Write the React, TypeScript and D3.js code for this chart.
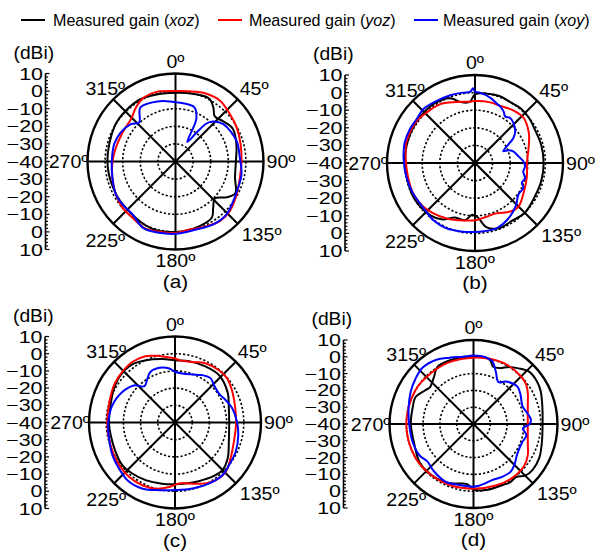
import React from 'react';
import * as d3 from 'd3';

// polar grid
const ANGLES = [0, 45, 90, 135, 180, 225, 270, 315];
const RINGS = [-30, -20, -10, 0];
const AXIS_TICKS = [10, 0, -10, -20, -30, -40, -30, -20, -10, 0, 10];
const SERIES = ['xoz', 'yoz', 'xoy'];
const PANEL_LABELS = ['(a)', '(b)', '(c)', '(d)'];

// [angle deg, gain dBi]
const aXoz = [[0,-1],[14,-0.3],[28,0.6],[35,-2.5],[41,-6],[50,-4.5],[60,-2.5],[74,-4],[90,-5.7],[105,-5],[118,-1.5],[125,-4.5],[133,-9.3],[141,-6],[147,-2],[160,-0.8],[180,0],[200,0.4],[225,-1.3],[245,-1.5],[270,-1.3],[300,0],[315,0.4],[331,0.6],[345,-0.5]];
const aYoz = [[0,0],[11,0.6],[24,2.3],[36,2.8],[49,1],[61,-0.2],[75,-1.7],[90,-2.5],[104,-2.3],[118,-0.6],[132,1.7],[143,2.2],[155,0.7],[168,-0.5],[180,0.6],[193,1],[205,1.7],[217,0.2],[229,0],[241,-1.3],[256,-3],[270,-4.2],[283,-5.2],[299,-5.7],[314,-5],[324,-1.9],[334,0.6],[344,1]];
const aXoy = [[0,-6.3],[10,-6.7],[19,-7.3],[26,-13],[31,-27],[36,-20],[39,-12.4],[43,-8.9],[52,-5.5],[71,-3.4],[86,-3.4],[101,-1.8],[113,-1.4],[124,-0.3],[136,1.7],[149,1.7],[163,0.4],[180,1.1],[193,1.6],[206,2],[219,-1.3],[231,-1.3],[241,-1.3],[256,-3],[270,-3.8],[286,-3.8],[298,-4.8],[310,-6.9],[317,-9.7],[327,-3.4],[345,-4.5]];

const bXoz = [[0,-1],[10,0],[20,0.5],[30,0],[40,0.5],[50,0],[60,-1],[75,-1],[90,-1],[105,-1],[120,-1],[135,0],[148,-1],[160,-0.5],[170,-3],[177,-9],[183,-10.5],[190,-7],[200,-7],[210,-3],[220,-1],[240,0],[260,-0.5],[280,0],[300,0.5],[320,1],[333,0.5],[340,-1],[347,-4.5],[355,-5.2]];
const bYoz = [[1.5,-4.8],[14,-4.5],[24,-4.5],[36,-3],[47,-2.3],[61,-5],[73,-8.1],[90,-10.5],[105,-9.5],[122,-7.5],[135,-5],[144,-5.9],[157,-8.9],[168,-8.8],[178,-7.6],[192,-6.6],[207,-4.6],[220,-2.8],[230,-1.5],[244,-0.8],[259,-1.1],[273,-0.6],[286,0.7],[298,0.9],[307,0.8],[316,-0.3],[329,-1.1],[343,-3.8],[355,-5]];
const bXoy = [[0,0.5],[4,0.1],[13,-1.9],[20,-4],[24,-4.8],[29,-6.5],[33,-8.5],[38,-7.6],[44,-8.5],[52,-11],[57,-14],[61,-18.4],[67.5,-22.6],[69,-19.6],[73,-17.3],[81,-15.1],[88,-12.5],[94,-11.5],[100,-12.2],[107,-10.3],[113,-11.1],[117,-9.1],[126,-9.5],[136,-6.5],[147,-3.6],[162,-0.9],[176,-0.9],[190,-0.4],[204,0.5],[216,0.2],[225,-0.9],[244,-0.8],[259,-0.2],[273,0.6],[286,1.6],[297,1.7],[307,1.5],[316,2.4],[328,1.5],[340,1],[350,0.6],[356,0.5],[358.5,2.5]];

const cXoz = [[0,-3.8],[13,-3.4],[27,-3],[43,-2.4],[60,-4.7],[75,-7.6],[90,-8.5],[110,-6.7],[124,-3],[135,-0.9],[145,-1.7],[158,-3.2],[170,-4],[180,-4.1],[192,-3.6],[207,-2.4],[220,-1.3],[231,-0.6],[244,-1.5],[259,-1.9],[270,-1.6],[285,-1.2],[299,0.6],[311,1.9],[324,1.9],[335,0],[349,-2.4]];
const cYoz = [[0,-2.8],[4,-3.7],[16,-3.4],[27,-1.3],[40,-0.3],[50,-0.3],[62,-2.2],[77,-4],[92,-4.5],[108,-4],[123,-1.5],[134,1.1],[145,1],[156,-1.1],[167,-3.6],[176,-4.5],[185,-2.4],[196,0],[207,1.1],[220,1.4],[236,0.6],[251,-0.3],[268,-0.6],[282,-0.4],[296,0.9],[304,1.8],[314,2.5],[325,3.1],[336,2.2],[346,-0.1],[355,-2]];
const cXoy = [[0,-10.5],[8.5,-11.2],[20,-10.3],[30,-8.2],[39,-7],[46,-8.6],[57,-9.4],[66,-7.8],[76,-5.7],[89,-4],[101,-2.5],[116,-0.8],[128,0],[138,1.2],[151,0.6],[165,-0.3],[180,-0.7],[193,0.4],[206,2.8],[218,3.6],[231,2.1],[242,1.1],[256,-0.5],[270,-1.2],[285,-2.2],[300,-4.6],[312,-7.8],[320,-12.4],[328,-9.8],[334,-7.3],[344,-6.9],[354,-8.4]];

const dXoz = [[0,0],[10,0.3],[15,-1],[19,-4],[25,-3.3],[32,0],[39,2.6],[47,5.5],[56,5.5],[64,4.5],[77,2.1],[90,1.1],[104,2],[117,4],[128,4.5],[135,3.5],[141,0.5],[148,1],[155,0.2],[168,0],[180,-1],[186,-4],[194,-3.5],[205,-1.6],[222,-0.5],[235,-0.7],[250,-2.7],[270,-2.7],[285,-2.5],[295,-2],[305,-5],[310,-6.1],[320,-3.4],[328,0.3],[340,0.5],[350,0]];
const dYoz = [[0,-0.5],[15,0],[30,0.5],[45,0],[53,-0.8],[60,-2.7],[70,-5.6],[80,-7.2],[90,-7.7],[100,-7.2],[110,-5.6],[120,-2.7],[130,-0.8],[145,-0.5],[160,-1],[180,-1.5],[200,-1],[220,-0.5],[240,0],[270,0],[300,0],[320,-0.5],[340,-0.5]];
const dXoy = [[0,0.7],[10.5,0.3],[17,-1.2],[23,-6.1],[31,-11],[37,-8.3],[44,-6.5],[50,-5.7],[58,-7],[70,-9],[78,-7.5],[85,-5.8],[90,-6.5],[95,-10.5],[102,-7.8],[110,-9],[124,-8.5],[135,-5.6],[142,-4],[151,-4.2],[161,-4.8],[175,-3.1],[180,-2.7],[193,-2.7],[206,-1.9],[220,-3.3],[231,-4.6],[240,-2.8],[254,-2.2],[270,-1.7],[284,-0.2],[297,2],[308,3.8],[318,5.2],[330,4.2],[340,2],[351,0.6]];

const PANEL_DATA = [
  [aXoz, aYoz, aXoy],
  [bXoz, bYoz, bXoy],
  [cXoz, cYoz, cXoy],
  [dXoz, dYoz, dXoy],
];

// layout / style
const W = 595;
const H = 551;
const LAYOUT = [
  { cx: 175.5, cy: 161.5, R: 88 },
  { cx: 475, cy: 163, R: 88 },
  { cx: 175, cy: 422.5, R: 86 },
  { cx: 473.5, cy: 424, R: 84 },
];
const COLORS = ['#000000', '#ff0000', '#0000ff'];
const LEGEND_LINE_X = [21, 218, 414];
const LEGEND_TEXT_X = [53, 249, 443];
const FONT = 'Arial, "Liberation Sans", Helvetica, sans-serif';

const fmt = (v: number) => (v < 0 ? '\u2212' + Math.abs(v) : String(v));

function angleLabelPos(a: number, cx: number, cy: number, R: number) {
  const rad = (a * Math.PI) / 180;
  const ex = cx + R * Math.sin(rad);
  const ey = cy - R * Math.cos(rad);
  switch (a) {
    case 0: return { x: cx, y: cy - R - 6, anchor: 'middle' };
    case 45: return { x: ex + 2, y: ey - 4, anchor: 'start' };
    case 90: return { x: cx + R + 3, y: cy + 6.5, anchor: 'start' };
    case 135: return { x: ex + 4, y: ey + 17, anchor: 'start' };
    case 180: return { x: cx, y: cy + R + 17.5, anchor: 'middle' };
    case 225: return { x: ex + 12, y: ey + 23, anchor: 'end' };
    case 270: return { x: cx - R + 1, y: cy + 6.5, anchor: 'end' };
    default: return { x: ex + 12, y: ey - 4, anchor: 'end' };
  }
}

function Polar({ idx }: { idx: number }) {
  const { cx, cy, R } = LAYOUT[idx];
  const r = d3.scaleLinear().domain([-40, 10]).range([0, R]);
  const line = d3
    .lineRadial<number[]>()
    .angle((d) => (d[0] * Math.PI) / 180)
    .radius((d) => r(d[1]))
    .curve(d3.curveCatmullRomClosed.alpha(0.5));
  const ax = cx - 130;
  const minor = d3.range(-40, 10.01, 2);

  return (
    <g>
      {/* dotted rings */}
      {RINGS.map((v) => (
        <circle key={v} cx={cx} cy={cy} r={r(v)} fill="none" stroke="#000" strokeWidth={1.6} strokeDasharray="2.2,2" />
      ))}
      {/* spokes */}
      {[0, 45, 90, 135].map((a) => {
        const rad = (a * Math.PI) / 180;
        const dx = R * Math.sin(rad);
        const dy = R * Math.cos(rad);
        return <line key={a} x1={cx - dx} y1={cy + dy} x2={cx + dx} y2={cy - dy} stroke="#000" strokeWidth={2} />;
      })}
      <circle cx={cx} cy={cy} r={R} fill="none" stroke="#000" strokeWidth={2.4} />

      {/* curves */}
      <g transform={`translate(${cx},${cy})`}>
        {PANEL_DATA[idx].map((s, i) => (
          <path key={i} d={line(s as number[][]) || ''} fill="none" stroke={COLORS[i]} strokeWidth={2} strokeLinejoin="round" />
        ))}
      </g>

      {/* angle labels */}
      {ANGLES.map((a) => {
        const p = angleLabelPos(a, cx, cy, R);
        return (
          <text
            key={a}
            transform={`translate(${p.x},${p.y}) scale(1.12,1)`}
            textAnchor={p.anchor as any}
            fontSize={17.5}
            fontFamily={FONT}
          >
            {a}º
          </text>
        );
      })}

      {/* radial axis on the left */}
      <line x1={ax} y1={cy - R} x2={ax} y2={cy + R} stroke="#000" strokeWidth={1.6} />
      {minor.map((v) => (
        <g key={v}>
          <line x1={ax} x2={ax + (v % 10 === 0 ? 4 : 2.5)} y1={cy - r(v)} y2={cy - r(v)} stroke="#000" strokeWidth={1.2} />
          <line x1={ax} x2={ax + (v % 10 === 0 ? 4 : 2.5)} y1={cy + r(v)} y2={cy + r(v)} stroke="#000" strokeWidth={1.2} />
        </g>
      ))}
      {AXIS_TICKS.map((v, i) => {
        const y = cy + (i < 5 ? -1 : 1) * r(v);
        return (
          <text
            key={i}
            transform={`translate(${ax - 2.5},${y + 6}) scale(1.3,1)`}
            textAnchor="end"
            fontSize={16.5}
            fontFamily={FONT}
          >
            {fmt(v)}
          </text>
        );
      })}
      <text transform={`translate(${ax - 32},${cy - R - 15}) scale(1.1,1)`} fontSize={17.5} fontFamily={FONT}>
        (dBi)
      </text>
      <text
        transform={`translate(${cx},${cy + R + 38}) scale(1.15,1)`}
        textAnchor="middle"
        fontSize={18}
        fontFamily={FONT}
      >
        {PANEL_LABELS[idx]}
      </text>
    </g>
  );
}

export default function App() {
  return (
    <svg
      width={W}
      height={H}
      viewBox={`0 0 ${W} ${H}`}
      style={{ position: 'absolute', left: 0, top: 0, background: '#fff' }}
    >
      {SERIES.map((s, i) => (
        <g key={s}>
          <line x1={LEGEND_LINE_X[i]} x2={LEGEND_LINE_X[i] + 24} y1={20} y2={20} stroke={COLORS[i]} strokeWidth={2} />
          <text x={LEGEND_TEXT_X[i]} y={26} fontSize={16.1} fontFamily={FONT}>
            Measured gain (<tspan fontStyle="italic">{s}</tspan>)
          </text>
        </g>
      ))}
      {LAYOUT.map((_, i) => (
        <Polar key={i} idx={i} />
      ))}
    </svg>
  );
}
